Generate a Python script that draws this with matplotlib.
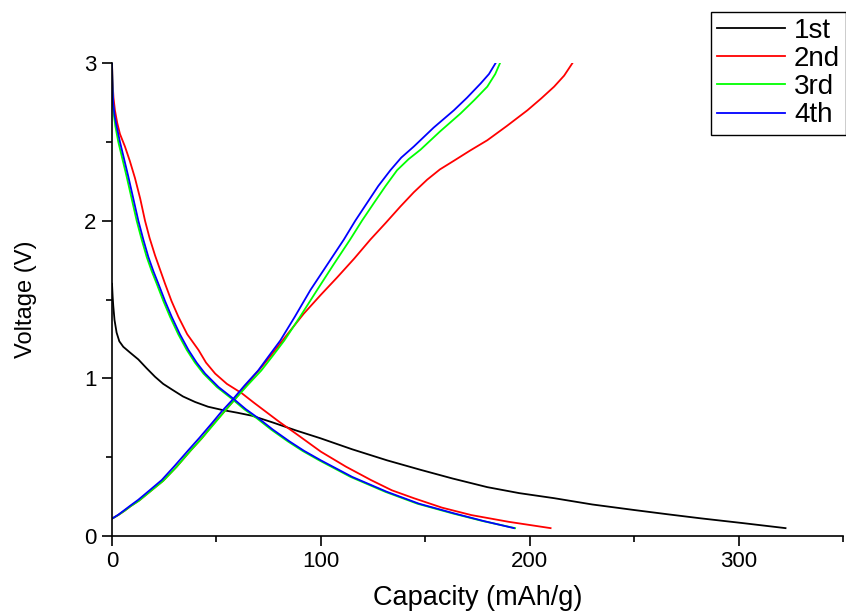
import numpy as np
import matplotlib.pyplot as plt

plt.rcParams['font.family'] = ['Liberation Sans', 'DejaVu Sans']

# discharge / charge curves (capacity mAh/g, voltage V)
cap_1st_dis = [0, 0.3, 0.6, 1.2, 2.2, 3.5, 5.4, 8.5, 12.6, 16.5, 20.6, 24.5, 28.6, 34,
               39.8, 46, 52.6, 60, 67, 77, 88, 99.8, 115, 131.7, 147.7, 163, 179.7,
               195, 211.7, 230, 250, 266, 282, 302, 322.5]
v_1st_dis = [1.60, 1.52, 1.46, 1.37, 1.29, 1.235, 1.20, 1.165, 1.12, 1.065, 1.01, 0.965,
             0.93, 0.885, 0.85, 0.82, 0.80, 0.782, 0.763, 0.72, 0.67, 0.62, 0.55, 0.48,
             0.42, 0.365, 0.31, 0.272, 0.24, 0.20, 0.165, 0.138, 0.112, 0.082, 0.05]

cap_2nd_dis = [0, 0.2, 0.7, 1.4, 2.5, 3.8, 6.2, 8.5, 11, 13.5, 15.8, 18, 20.6, 23, 25.4,
               28.5, 31.8, 36, 41.4, 45, 49.4, 55, 62.2, 68, 74, 80, 88, 100, 112, 124,
               134, 144.5, 158, 172, 190, 210]
v_2nd_dis = [3.0, 2.9, 2.78, 2.70, 2.62, 2.55, 2.47, 2.38, 2.27, 2.14, 2.0, 1.89, 1.78,
             1.69, 1.60, 1.49, 1.39, 1.28, 1.18, 1.10, 1.03, 0.965, 0.905, 0.845, 0.785,
             0.725, 0.65, 0.535, 0.44, 0.355, 0.29, 0.24, 0.18, 0.133, 0.09, 0.05]
cap_2nd_chg = [0, 3, 6, 9, 13, 18.5, 24.5, 31, 37.5, 43, 48.5, 53.5, 58.4, 63, 67, 71.5,
               75.8, 84, 91.8, 100, 107.8, 116, 123.7, 131, 138.1, 144.5, 150.9, 157,
               163.7, 171.5, 179.7, 189, 198.9, 205.5, 211.7, 216.5, 220.5]
v_2nd_chg = [0.11, 0.133, 0.16, 0.19, 0.225, 0.285, 0.35, 0.44, 0.54, 0.62, 0.71, 0.785,
             0.86, 0.935, 1.0, 1.07, 1.14, 1.28, 1.41, 1.53, 1.64, 1.76, 1.88, 1.985,
             2.09, 2.18, 2.26, 2.325, 2.38, 2.445, 2.51, 2.60, 2.70, 2.775, 2.85, 2.92, 3.0]

cap_3rd_dis = [0, 0.1, 0.3, 0.5, 1.0, 1.6, 3.0, 5.0, 7.0, 9.4, 11.8, 14.2, 16.6, 19.0,
               21.4, 24.6, 27.8, 31.7, 35.8, 39.7, 43.8, 50.2, 57.4, 63.2, 69.4, 76.2,
               84.2, 91.2, 99.2, 114.2, 130.9, 146.2, 162.9, 177.5, 193]
v_3rd_dis = [3.0, 2.93, 2.82, 2.74, 2.66, 2.6, 2.5, 2.39, 2.28, 2.14, 2.0, 1.88, 1.77,
             1.68, 1.60, 1.49, 1.39, 1.28, 1.18, 1.10, 1.03, 0.945, 0.87, 0.805, 0.746,
             0.675, 0.6, 0.54, 0.48, 0.375, 0.28, 0.205, 0.144, 0.095, 0.05]
cap_3rd_chg = [0, 3, 6, 9, 13, 18.5, 24.5, 31, 37.5, 43, 48.8, 53.5, 58.4, 64.8, 71.5,
               76.8, 82.5, 90, 98.2, 106, 114, 119.7, 125.3, 131, 136.5, 142, 147.7,
               157, 166.9, 173.5, 179.7, 183.5, 185.8]
v_3rd_chg = [0.11, 0.133, 0.16, 0.19, 0.225, 0.285, 0.35, 0.44, 0.54, 0.62, 0.71, 0.785,
             0.86, 0.955, 1.05, 1.14, 1.24, 1.39, 1.56, 1.72, 1.88, 2.0, 2.11, 2.22,
             2.32, 2.39, 2.45, 2.565, 2.68, 2.765, 2.85, 2.93, 3.0]

cap_4th_dis = [0, 0.1, 0.3, 0.6, 1.3, 2.2, 3.8, 5.8, 7.8, 10.2, 12.6, 15, 17.4, 19.8,
               22.2, 25.4, 28.6, 32.5, 36.6, 40.5, 44.6, 51, 58.2, 64, 70.2, 77, 85,
               92, 100, 115, 131.7, 147, 163.7, 178, 192.5]
v_4th_dis = [3.0, 2.93, 2.83, 2.74, 2.66, 2.6, 2.5, 2.39, 2.28, 2.14, 2.0, 1.88, 1.77,
             1.68, 1.60, 1.49, 1.39, 1.28, 1.18, 1.10, 1.03, 0.945, 0.87, 0.805, 0.746,
             0.675, 0.6, 0.54, 0.48, 0.375, 0.28, 0.205, 0.144, 0.095, 0.05]
cap_4th_chg = [0, 3, 6, 9, 12.6, 18, 23.8, 30, 36.6, 42, 47.8, 52.5, 57.4, 63.5, 70, 75,
               80.6, 87.5, 95, 103, 111, 116.5, 122, 127.5, 133.3, 138.5, 144.5, 154,
               163.7, 170, 176.5, 180.5, 183.7]
v_4th_chg = [0.11, 0.135, 0.165, 0.195, 0.23, 0.29, 0.355, 0.445, 0.545, 0.625, 0.715,
             0.79, 0.86, 0.955, 1.05, 1.14, 1.24, 1.39, 1.56, 1.72, 1.88, 2.0, 2.11,
             2.22, 2.32, 2.40, 2.47, 2.59, 2.70, 2.78, 2.87, 2.93, 3.0]

fig = plt.figure(figsize=(8.46, 6.14), dpi=100)
ax = fig.add_axes([0.1324, 0.127, 0.864, 0.7704])

lw = 1.3
ax.plot(cap_1st_dis, v_1st_dis, color='black', lw=lw, label='1st')
ax.plot(cap_2nd_dis, v_2nd_dis, color='#ff0000', lw=lw, label='2nd')
ax.plot(cap_2nd_chg, v_2nd_chg, color='#ff0000', lw=lw)
ax.plot(cap_3rd_dis, v_3rd_dis, color='#00ff00', lw=lw, label='3rd')
ax.plot(cap_3rd_chg, v_3rd_chg, color='#00ff00', lw=lw)
ax.plot(cap_4th_dis, v_4th_dis, color='#0000ff', lw=lw, label='4th')
ax.plot(cap_4th_chg, v_4th_chg, color='#0000ff', lw=lw)

ax.set_xlim(0, 350)
ax.set_ylim(0, 3)
ax.set_xticks([0, 100, 200, 300])
ax.set_xticks([50, 150, 250, 350], minor=True)
ax.set_yticks([0, 1, 2, 3])
ax.set_yticks([0.5, 1.5, 2.5], minor=True)

for side in ['top', 'right']:
    ax.spines[side].set_visible(False)
for side in ['left', 'bottom']:
    ax.spines[side].set_linewidth(1.2)
ax.tick_params(which='major', direction='out', length=7.5, width=1.2, labelsize=16)
ax.tick_params(which='minor', direction='out', length=4, width=1.2)

ax.set_xlabel('Capacity (mAh/g)', fontsize=19.5, labelpad=9)
ax.set_ylabel('Voltage (V)', fontsize=17, labelpad=34)

# legend sticks out past the right edge, as in the original
leg = fig.legend(loc='upper left', bbox_to_anchor=(0.8404, 0.981), fontsize=20,
                 frameon=True, fancybox=False, edgecolor='black', framealpha=1,
                 handlelength=2.45, handletextpad=0.32, borderpad=0.22,
                 labelspacing=0.08, borderaxespad=0)
leg.get_frame().set_linewidth(1.0)

plt.savefig('out.png', dpi=100)
